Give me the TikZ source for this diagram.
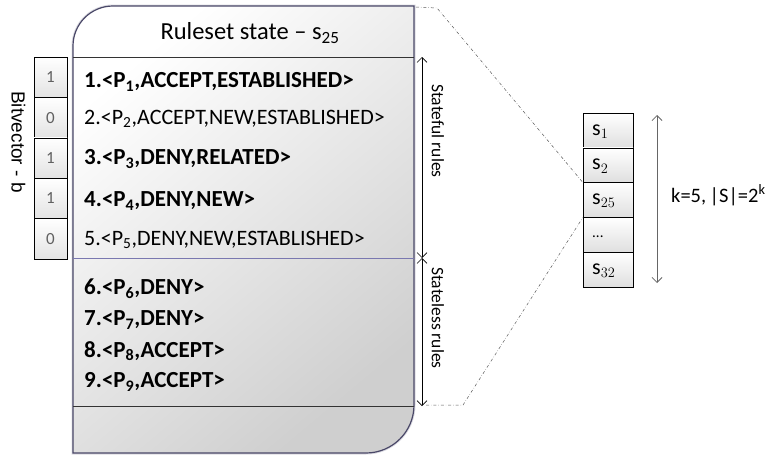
\documentclass[tikz,border=0pt]{standalone}
\usepackage{fontspec}
\setmainfont{Carlito}
\newfontfamily\arialish{Liberation Sans}
\usetikzlibrary{arrows.meta}
\definecolor{boxedge}{HTML}{4A4868}
\definecolor{midline}{HTML}{7A78B0}
\tikzset{
  rule/.style={anchor=west, font=\fontsize{22}{22}\selectfont, inner sep=0pt},
  boldrule/.style={rule, font=\fontsize{23}{23}\selectfont\bfseries},
  bitcell/.style={draw=black, line width=0.6pt, minimum width=33pt, minimum height=40.4pt, inner sep=0pt,
    top color=white, bottom color=gray!22, font=\fontsize{17}{17}\selectfont\color{gray!75!black}},
  statecell/.style={draw=black, line width=0.6pt, minimum width=50pt, minimum height=34.8pt, inner sep=0pt,
    top color=white, bottom color=gray!25},
  statelab/.style={anchor=west, inner sep=0pt, font=\fontsize{22}{22}\selectfont},
  span/.style={{Straight Barb[length=5pt,width=10pt]}-{Straight Barb[length=5pt,width=10pt]}, line width=0.6pt},
  zoomline/.style={dash dot, line width=0.5pt, gray!70!black},
  vlabel/.style={rotate=-90, font=\fontsize{17.5}{17.5}\selectfont, inner sep=0pt}
}
\begin{document}
\begin{tikzpicture}[x=1pt,y=1pt]
\useasboundingbox (0,0) rectangle (772,-458);
% main box
\draw[boxedge!40, line width=3pt, opacity=0.5] (73,-453) -- (73,-46) arc[start angle=180,end angle=90,radius=40] -- (414,-6) -- (414,-405) arc[start angle=0,end angle=-90,radius=48] -- cycle;
\draw[boxedge, line width=1.2pt, shading=axis, top color=white, bottom color=gray!38, shading angle=40]
  (73,-453) -- (73,-46) arc[start angle=180,end angle=90,radius=40] -- (414,-6) -- (414,-405) arc[start angle=0,end angle=-90,radius=48] -- cycle;
\draw[line width=0.6pt, black!80] (73,-57) -- (414,-57);
\draw[line width=0.8pt, midline] (73,-258) -- (414,-258);
\draw[line width=0.6pt, black!80] (73,-406) -- (414,-406);
\node[font=\fontsize{24.5}{24.5}\selectfont, inner sep=0pt] (title) at (250,-33) {Ruleset state -- s\textsubscript{25}};
% rules
\node[boldrule] (r1) at (84,-82) {1.<P\textsubscript{1},ACCEPT,ESTABLISHED>};
\node[rule] (r2) at (84,-119) {2.<P\textsubscript{2},ACCEPT,NEW,ESTABLISHED>};
\node[boldrule] (r3) at (84,-159) {3.<P\textsubscript{3},DENY,RELATED>};
\node[boldrule] (r4) at (84,-201) {4.<P\textsubscript{4},DENY,NEW>};
\node[rule] (r5) at (84,-240) {5.<P\textsubscript{5},DENY,NEW,ESTABLISHED>};
\node[boldrule] (r6) at (84,-289) {6.<P\textsubscript{6},DENY>};
\node[boldrule] (r7) at (84,-320) {7.<P\textsubscript{7},DENY>};
\node[boldrule] (r8) at (84,-351) {8.<P\textsubscript{8},ACCEPT>};
\node[boldrule] (r9) at (84,-382) {9.<P\textsubscript{9},ACCEPT>};
% bitvector
\node[bitcell] (b1) at (50.5,-77.2) {1};
\node[bitcell] (b2) at (50.5,-117.6) {0};
\node[bitcell] (b3) at (50.5,-158.0) {1};
\node[bitcell] (b4) at (50.5,-198.4) {1};
\node[bitcell] (b5) at (50.5,-238.8) {0};
\node[rotate=-90, inner sep=0pt, font=\arialish\fontsize{19}{19}\selectfont] (bv) at (18.5,-142) {Bitvector - b};
% spans
\coordinate (sf1) at (422,-57);
\coordinate (sf2) at (422,-258);
\coordinate (sl2) at (422,-406);
\draw[span] (sf1) -- (sf2);
\draw[span] (sf2) -- (sl2);
\node[vlabel] (sfl) at (438,-131) {Stateful rules};
\node[vlabel] (sll) at (438,-318) {Stateless rules};
% state cells
\node[statecell] (s1) at (608,-130.4) {};
\node[statecell] (s2) at (608,-165.2) {};
\node[statecell] (s3) at (608,-200.0) {};
\node[statecell] (s4) at (608,-234.8) {};
\node[statecell] (s5) at (608,-269.6) {};
\node[statelab] (l1) at (592,-131.4) {$\mathrm{s}_1$};
\node[statelab] (l2) at (592,-166.2) {$\mathrm{s}_2$};
\node[statelab] (l3) at (592,-201.0) {$\mathrm{s}_{25}$};
\node[statelab] (l4) at (592,-236.8) {\fontsize{15}{15}\selectfont ...};
\node[statelab] (l5) at (592,-270.6) {$\mathrm{s}_{32}$};
% zoom lines
\coordinate (z1) at (416,-7);
\coordinate (z2) at (437,-8);
\coordinate (z3) at (426,-405);
\coordinate (z4) at (463,-405);
\draw[zoomline] (z1) -- (z2) -- (s3.north west);
\draw[zoomline] (z3) -- (z4) -- (s3.south west);
% k arrow
\coordinate (k1) at (657,-115);
\coordinate (k2) at (657,-283);
\draw[span, gray!80!black, line width=0.8pt] (k1) -- (k2);
\node[anchor=west, font=\fontsize{20.5}{20.5}\selectfont, inner sep=0pt] (kl) at (671,-195) {k=5,\,|S|=2\textsuperscript{k}};
\end{tikzpicture}
\end{document}
